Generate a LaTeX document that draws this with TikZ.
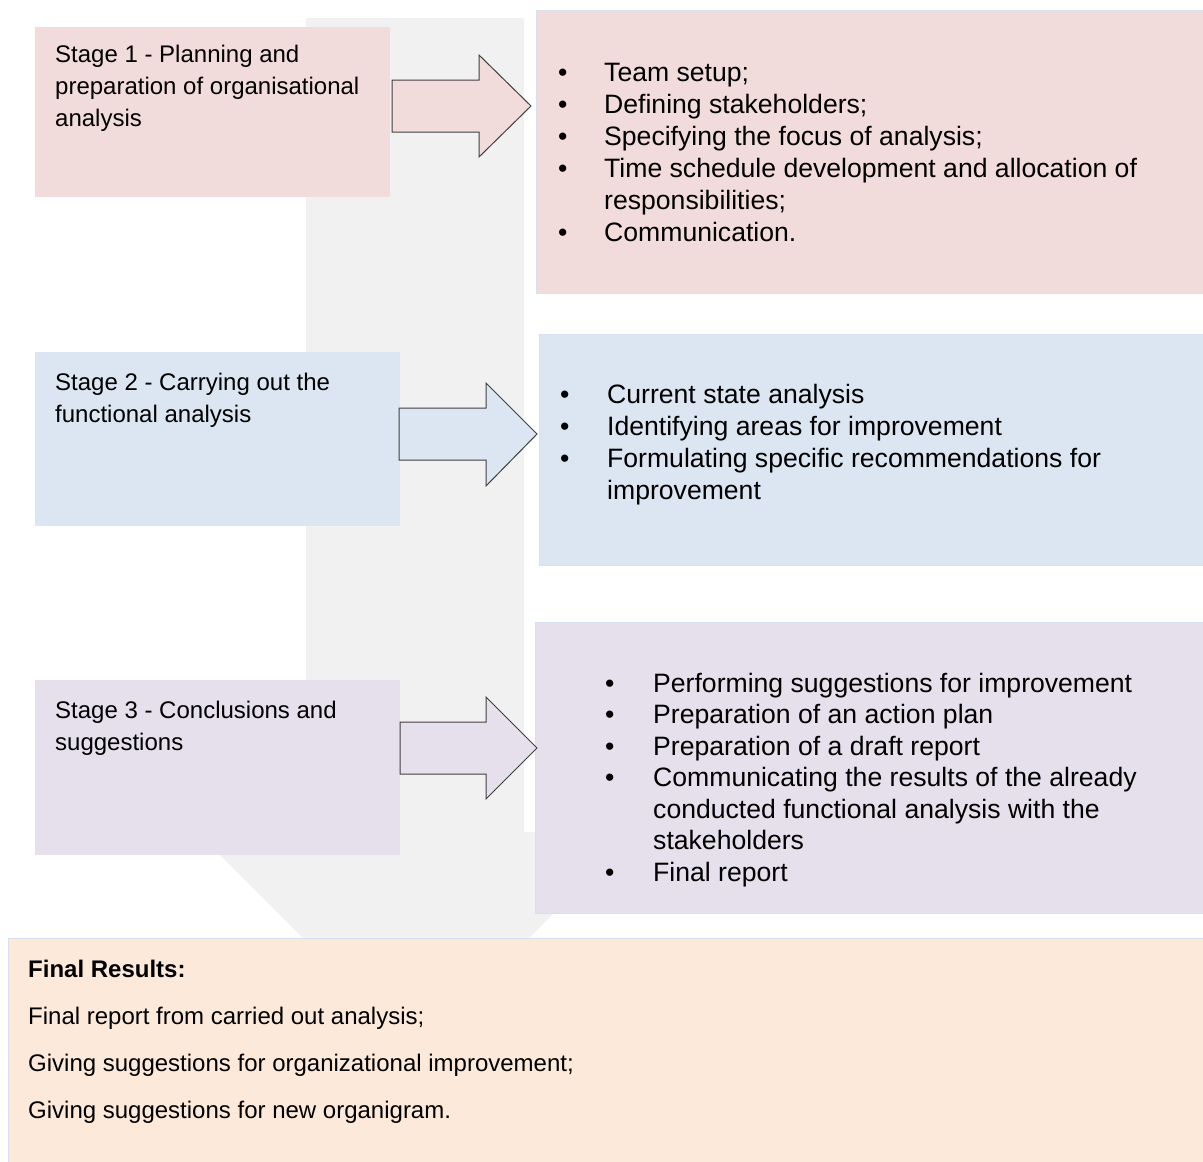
\documentclass[tikz,border=0pt]{standalone}
\usepackage{fontspec}
\setmainfont{Liberation Sans}
\usepackage{tikz}
\usetikzlibrary{calc, positioning}
\definecolor{pinkfill}{RGB}{242, 220, 219}
\definecolor{bluefill}{RGB}{220, 230, 242}
\definecolor{lilacfill}{RGB}{229, 224, 236}
\definecolor{peachfill}{RGB}{253, 233, 217}
\definecolor{flowgray}{RGB}{241, 241, 241}
\definecolor{edgeblue}{RGB}{214, 224, 240}
\definecolor{arrowline}{RGB}{64, 64, 64}
\tikzset{
    stagenode/.style = {draw=none, rectangle, anchor=north west, inner sep=0pt, outer sep=0pt},
    listnode/.style = {draw=edgeblue, line width=1pt, rectangle, anchor=north west, inner sep=0pt, outer sep=0pt},
    textnode/.style = {draw=none, fill=none, rectangle, inner sep=0pt, anchor=base west,
      font=\fontsize{24}{32}\selectfont},
    itemnode/.style = {draw=none, fill=none, rectangle, inner sep=0pt, anchor=base west,
      font=\fontsize{26.6}{32}\selectfont},
    resultnode/.style = {draw=none, fill=none, rectangle, inner sep=0pt, anchor=base west,
      font=\fontsize{24}{47}\selectfont},
    blockarrow/.style = {draw=arrowline, line width=1pt, line join=miter},
}

\begin{document}
\begin{tikzpicture}[x=1pt, y=-1pt]
\useasboundingbox (0,0) rectangle (1203,1162);

% big flow arrow behind everything
\fill[flowgray] (306,18) -- (524,18) -- (524,832) -- (635,832) -- (416,1051)
	-- (197,832) -- (306,832) -- cycle;

% stage boxes
\node[stagenode, name=s1, minimum width=355pt, minimum height=170pt, fill=pinkfill] at (35,27) {};
\node[textnode, name=t1] at ($(s1.north west)+(20,35)$) {\begin{tabular}[t]{@{}l@{}}
	Stage 1 - Planning and\\preparation of organisational\\analysis
	\end{tabular}};

\node[stagenode, name=s2, minimum width=365pt, minimum height=174pt, fill=bluefill] at (35,352) {};
\node[textnode, name=t2] at ($(s2.north west)+(20,38)$) {\begin{tabular}[t]{@{}l@{}}
	Stage 2 - Carrying out the\\functional analysis
	\end{tabular}};

\node[stagenode, name=s3, minimum width=365pt, minimum height=175pt, fill=lilacfill] at (35,680) {};
\node[textnode, name=t3] at ($(s3.north west)+(20,38)$) {\begin{tabular}[t]{@{}l@{}}
	Stage 3 - Conclusions and\\suggestions
	\end{tabular}};

% lists
\node[listnode, name=l1, minimum width=667pt, minimum height=283pt, fill=pinkfill] at (536,10) {};
\node[itemnode, name=i1] at ($(l1.north west)+(22,71)$) {\begin{tabular}[t]{@{}p{46pt}@{}l@{}}
	\textbullet & Team setup;\\
	\textbullet & Defining stakeholders;\\
	\textbullet & Specifying the focus of analysis;\\
	\textbullet & Time schedule development and allocation of\\
	 & responsibilities;\\
	\textbullet & Communication.
	\end{tabular}};

\node[listnode, name=l2, minimum width=664pt, minimum height=231pt, fill=bluefill] at (539,334) {};
\node[itemnode, name=i2] at ($(l2.north west)+(21,69)$) {\begin{tabular}[t]{@{}p{47pt}@{}l@{}}
	\textbullet & Current state analysis\\
	\textbullet & Identifying areas for improvement\\
	\textbullet & Formulating specific recommendations for\\
	 & improvement
	\end{tabular}};

\node[listnode, name=l3, minimum width=668pt, minimum height=291pt, fill=lilacfill] at (535,622) {};
\node[itemnode, name=i3, font=\fontsize{26.6}{31.5}\selectfont] at ($(l3.north west)+(70,70)$) {\begin{tabular}[t]{@{}p{48pt}@{}l@{}}
	\textbullet & Performing suggestions for improvement\\
	\textbullet & Preparation of an action plan\\
	\textbullet & Preparation of a draft report\\
	\textbullet & Communicating the results of the already\\
	 & conducted functional analysis with the\\
	 & stakeholders\\
	\textbullet & Final report
	\end{tabular}};

% block arrows stage -> list
\draw[blockarrow, fill=pinkfill] ($(s1.north east)+(2,53)$) -- ++(87,0) -- ++(0,-25)
	-- ++(52,51) -- ++(-52,51) -- ++(0,-25) -- ++(-87,0) -- cycle;
\draw[blockarrow, fill=bluefill] ($(s2.north east)+(-1,56)$) -- ++(87,0) -- ++(0,-25)
	-- ++(51,51) -- ++(-51,52) -- ++(0,-26) -- ++(-87,0) -- cycle;
\draw[blockarrow, fill=lilacfill] ($(s3.north east)+(0,42)$) -- ++(86,0) -- ++(0,-25)
	-- ++(51,51) -- ++(-51,51) -- ++(0,-25) -- ++(-86,0) -- cycle;

% final results
\node[listnode, name=fin, minimum width=1195pt, minimum height=225pt, fill=peachfill] at (8,938) {};
\node[resultnode, name=res] at ($(fin.north west)+(20,39)$) {\begin{tabular}[t]{@{}l@{}}
	\textbf{Final Results:}\\Final report from carried out analysis;\\
	Giving suggestions for organizational improvement;\\Giving suggestions for new organigram.
	\end{tabular}};
\end{tikzpicture}
\end{document}
